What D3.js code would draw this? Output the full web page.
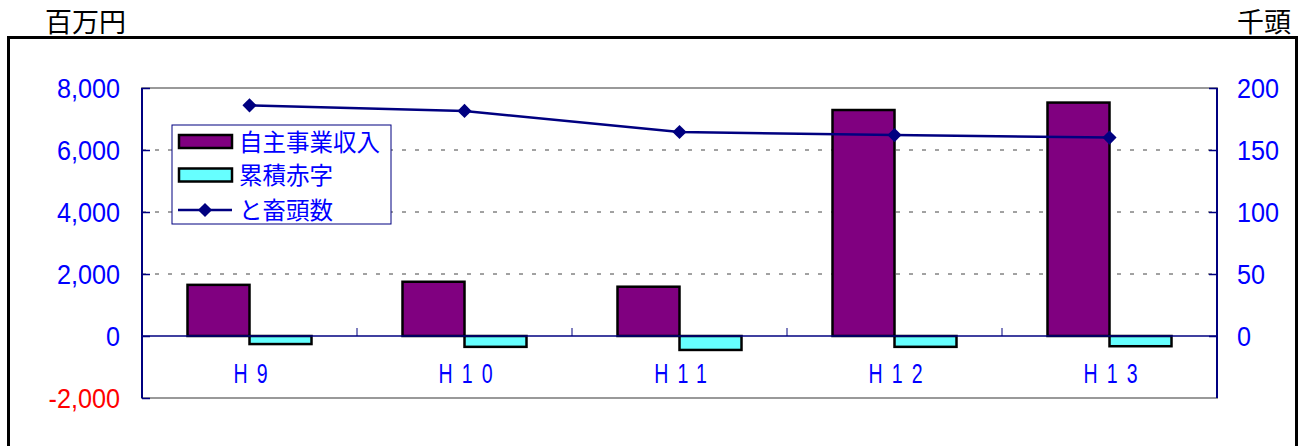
<!DOCTYPE html>
<html>
<head>
<meta charset="utf-8">
<script src="https://cdn.jsdelivr.net/npm/d3@7"></script>
<style>
  body { margin: 0; background: #fff; }
  svg text { font-family: "Liberation Sans", Arial, "Noto Sans CJK JP", sans-serif; }
</style>
</head>
<body>
<svg id="chart" width="1307" height="446"></svg>
<script>
const categories = ['H9', 'H10', 'H11', 'H12', 'H13'];
const revenue = [1650, 1750, 1590, 7290, 7530];     // 自主事業収入 (百万円)
const deficit = [-260, -350, -450, -350, -330];     // 累積赤字 (百万円)
const herd = [186, 181.5, 164.5, 162, 160];         // と畜頭数 (千頭)
const leftTicks = [-2000, 0, 2000, 4000, 6000, 8000];
const rightTicks = [0, 50, 100, 150, 200];
const seriesNames = ['自主事業収入', '累積赤字', 'と畜頭数'];

const svg = d3.select('#chart');
const plotL = 142, plotR = 1217, plotT = 88, plotB = 398;

// outer frame
svg.append('rect').attr('x', 8.5).attr('y', 37.5).attr('width', 1288).attr('height', 420)
  .attr('fill', 'none').attr('stroke', '#000').attr('stroke-width', 3);

svg.append('text').attr('x', 45).attr('y', 32).attr('font-size', 27).text('百万円');
svg.append('text').attr('x', 1291).attr('y', 32).attr('font-size', 27).attr('text-anchor', 'end').text('千頭');

const x = d3.scaleBand().domain(categories).range([plotL, plotR]);
const y = d3.scaleLinear().domain([-2000, 8000]).range([plotB, plotT]);
const y2 = d3.scaleLinear().domain([-50, 200]).range([plotB, plotT]);
const cx = d => x(d) + x.bandwidth() / 2;

// plot area border
svg.append('rect').attr('x', plotL).attr('y', plotT).attr('width', plotR - plotL).attr('height', plotB - plotT)
  .attr('fill', '#fff').attr('stroke', '#999').attr('stroke-width', 2);

// grid
svg.append('g').selectAll('line').data([2000, 4000, 6000]).join('line')
  .attr('x1', plotL).attr('x2', plotR).attr('y1', d => y(d)).attr('y2', d => y(d))
  .attr('stroke', '#444').attr('stroke-dasharray', '4,9');

// bars
const bw = 62;
svg.append('g').selectAll('rect').data(revenue).join('rect')
  .attr('x', (d, i) => cx(categories[i]) - bw)
  .attr('y', d => y(d)).attr('width', bw).attr('height', d => y(0) - y(d))
  .attr('fill', '#800080').attr('stroke', '#000').attr('stroke-width', 2.5);
svg.append('g').selectAll('rect').data(deficit).join('rect')
  .attr('x', (d, i) => cx(categories[i]))
  .attr('y', y(0)).attr('width', bw).attr('height', d => y(d) - y(0))
  .attr('fill', '#66FFFF').attr('stroke', '#000').attr('stroke-width', 2.5);

// zero line and ticks between categories
svg.append('line').attr('x1', plotL).attr('x2', plotR).attr('y1', y(0)).attr('y2', y(0))
  .attr('stroke', '#000080').attr('stroke-width', 1.5);
svg.append('g').selectAll('line').data(categories.slice(1)).join('line')
  .attr('x1', d => x(d)).attr('x2', d => x(d)).attr('y1', y(0) - 8).attr('y2', y(0))
  .attr('stroke', '#000080');

// axes
const yAxis = svg.append('g').attr('transform', `translate(${plotL},0)`)
  .call(d3.axisRight(y).tickValues(leftTicks).tickSize(8).tickFormat(''));
yAxis.select('.domain').attr('stroke', '#000080').attr('stroke-width', 2)
  .attr('d', `M0,${plotT}V${plotB}`);
yAxis.selectAll('.tick line').attr('stroke', '#000080').attr('stroke-width', 1.5);

const fmt = d => d3.format(',')(d).replace('−', '-');
svg.append('g').selectAll('text').data(leftTicks).join('text')
  .attr('text-anchor', 'end').attr('font-size', 28)
  .attr('transform', d => `translate(120,${y(d) + 10}) scale(0.9,1)`)
  .attr('fill', d => d < 0 ? '#FF0000' : '#0000FF').text(fmt);

const y2Axis = svg.append('g').attr('transform', `translate(${plotR},0)`)
  .call(d3.axisLeft(y2).tickValues(rightTicks).tickSize(8).tickFormat(''));
y2Axis.select('.domain').attr('stroke', '#000080').attr('stroke-width', 2)
  .attr('d', `M0,${plotT}V${plotB}`);
y2Axis.selectAll('.tick line').attr('stroke', '#000080').attr('stroke-width', 1.5);
svg.append('g').selectAll('text').data(rightTicks).join('text')
  .attr('font-size', 28)
  .attr('transform', d => `translate(1237,${y2(d) + 10}) scale(0.9,1)`)
  .attr('fill', '#0000FF').text(d => d);

// category labels
const ls = 13, sx = 0.7;
svg.append('g').selectAll('text').data(categories).join('text')
  .attr('text-anchor', 'middle').attr('font-size', 28).attr('fill', '#0000FF')
  .attr('letter-spacing', ls)
  .attr('transform', d => `translate(${cx(d) + ls * sx / 2 + 1},383) scale(${sx},1)`)
  .text(d => d);

// line
svg.append('path').datum(herd)
  .attr('d', d3.line().x((d, i) => cx(categories[i])).y(d => y2(d)))
  .attr('fill', 'none').attr('stroke', '#000080').attr('stroke-width', 2.5);
svg.append('g').selectAll('path').data(herd).join('path')
  .attr('transform', (d, i) => `translate(${cx(categories[i])},${y2(d)})`)
  .attr('d', d3.symbol().type(d3.symbolDiamond2).size(128)).attr('fill', '#000080');

// legend
const lg = svg.append('g');
lg.append('rect').attr('x', 172).attr('y', 125).attr('width', 219).attr('height', 99)
  .attr('fill', '#fff').attr('stroke', '#000080').attr('stroke-width', 1);
const rowY = [141.5, 175, 210];
lg.append('rect').attr('x', 179).attr('y', rowY[0] - 6.5).attr('width', 53).attr('height', 13)
  .attr('fill', '#800080').attr('stroke', '#000').attr('stroke-width', 2.5);
lg.append('rect').attr('x', 179).attr('y', rowY[1] - 6.5).attr('width', 53).attr('height', 13)
  .attr('fill', '#66FFFF').attr('stroke', '#000').attr('stroke-width', 2.5);
lg.append('line').attr('x1', 178).attr('x2', 232).attr('y1', rowY[2]).attr('y2', rowY[2])
  .attr('stroke', '#000080').attr('stroke-width', 2.5);
lg.append('path').attr('transform', `translate(205,${rowY[2]})`)
  .attr('d', d3.symbol().type(d3.symbolDiamond2).size(128)).attr('fill', '#000080');
lg.selectAll('text.lbl').data(seriesNames).join('text')
  .attr('x', 239).attr('y', (d, i) => rowY[i] + 9).attr('font-size', 23.5)
  .attr('fill', '#0000FF').text(d => d);
</script>
</body>
</html>
